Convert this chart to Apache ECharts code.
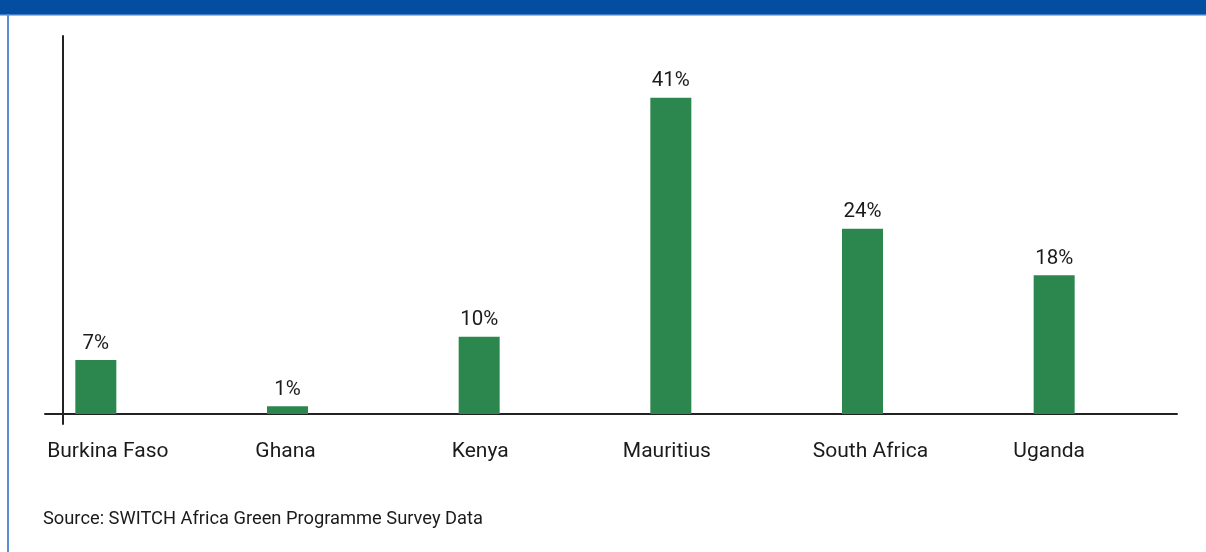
<!DOCTYPE html>
<html>
<head>
<meta charset="utf-8">
<script src="https://cdn.jsdelivr.net/npm/echarts@6/dist/echarts.min.js"></script>
<style>
  html, body { margin: 0; padding: 0; background: #ffffff; }
  #chart { width: 1206px; height: 552px; }
</style>
</head>
<body>
<div id="chart"></div>
<script>
// Share by country (%)
const countries = ['Burkina Faso', 'Ghana', 'Kenya', 'Mauritius', 'South Africa', 'Uganda'];
const shares = [7, 1, 10, 41, 24, 18];
const sourceNote = 'Source: SWITCH Africa Green Programme Survey Data';

const FONT = 'Roboto, "Noto Sans", sans-serif';
const INK = '#1b1b1b';
const AXIS = '#222222';

// horizontal nudge (px) of each category label relative to its bar
const labelNudge = [12, -2, 1, -4, 8, -5];
const labelRich = {};
labelNudge.forEach((dx, i) => {
  labelRich['c' + i] = {
    color: INK, fontSize: 21, fontFamily: FONT,
    padding: dx >= 0 ? [0, 0, 0, dx * 2] : [0, -dx * 2, 0, 0]
  };
});

const chart = echarts.init(document.getElementById('chart'), null, { renderer: 'canvas' });

chart.setOption({
  backgroundColor: '#ffffff',
  animation: false,
  textStyle: { fontFamily: FONT },
  title: {
    text: sourceNote,
    left: 38,
    top: 505,
    textStyle: { fontFamily: FONT, fontSize: 18.3, fontWeight: 'normal', color: INK }
  },
  graphic: [
    // header band and left frame rule
    { type: 'rect', shape: { x: 0, y: 0, width: 1206, height: 14 }, style: { fill: '#044ea2' }, silent: true },
    { type: 'rect', shape: { x: 0, y: 14, width: 1206, height: 1.5 }, style: { fill: '#3f7cc4' }, silent: true },
    { type: 'rect', shape: { x: 7, y: 14, width: 2, height: 538 }, style: { fill: '#5b8fd0' }, silent: true }
  ],
  grid: [
    // bars
    { left: 0, right: 56, top: 36, bottom: 138 },
    // horizontal axis rule
    { left: 45, right: 29, top: 36, bottom: 138 },
    // vertical axis rule (runs slightly past the baseline)
    { left: 63, width: 20, top: 36, bottom: 128 }
  ],
  xAxis: [
    {
      gridIndex: 0,
      type: 'category',
      data: countries,
      axisLine: { show: false },
      axisTick: { show: false },
      axisLabel: {
        interval: 0,
        hideOverlap: false,
        color: INK, fontSize: 21, fontFamily: FONT, margin: 27,
        formatter: (v, i) => '{c' + i + '|' + v + '}',
        rich: labelRich
      }
    },
    {
      gridIndex: 1, type: 'value', min: 0, max: 1,
      axisLine: { show: true, onZero: false, lineStyle: { color: AXIS, width: 2 } },
      axisTick: { show: false }, axisLabel: { show: false }, splitLine: { show: false }
    },
    {
      gridIndex: 2, type: 'value', show: false
    }
  ],
  yAxis: [
    {
      gridIndex: 0, type: 'value', min: 0, max: 49,
      show: false, splitLine: { show: false }
    },
    {
      gridIndex: 1, type: 'value', show: false
    },
    {
      gridIndex: 2, type: 'value', min: 0, max: 1,
      axisLine: { show: true, onZero: false, lineStyle: { color: AXIS, width: 2 } },
      axisTick: { show: false }, axisLabel: { show: false }, splitLine: { show: false }
    }
  ],
  series: [
    {
      type: 'bar',
      xAxisIndex: 0,
      yAxisIndex: 0,
      data: shares,
      barWidth: 41,
      itemStyle: { color: '#2c874f' },
      label: {
        show: true,
        position: 'top',
        distance: 6,
        formatter: p => p.value + '%',
        color: INK,
        fontSize: 20.5,
        fontFamily: FONT
      }
    }
  ]
});
</script>
</body>
</html>
